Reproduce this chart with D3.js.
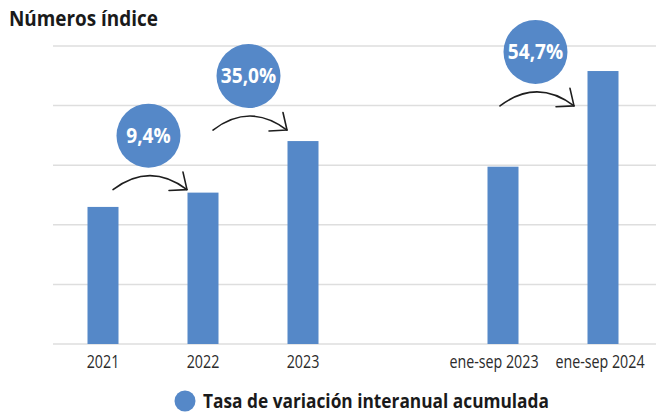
<!DOCTYPE html>
<html>
<head>
<meta charset="utf-8">
<script src="https://cdn.jsdelivr.net/npm/d3@7"></script>
<style>
  body { margin: 0; background: #fff; }
  svg { display: block; }
</style>
</head>
<body>
<script>
// categories, with an empty slot between the years and the jan-sep periods
const categories = ["2021", "2022", "2023", "gap", "ene-sep 2023", "ene-sep 2024"];
const indexValues = [46.0, 50.8, 68.1, null, 59.5, 91.6];
const yTicks = [0, 20, 40, 60, 80, 100];

// variation bubbles: from -> to, label
const varFrom = ["2021", "2022", "ene-sep 2023"];
const varTo = ["2022", "2023", "ene-sep 2024"];
const varLabels = ["9,4%", "35,0%", "54,7%"];
// where the arrows sit (in index units) and a small sideways nudge
const arrowLevel = [51.8, 71.8, 79.9];
const arrowNudge = [0, 0, -13];

const titleText = "Números índice";
const legendText = "Tasa de variación interanual acumulada";

const W = 656, H = 412;
const blue = "#5588c8";

const svg = d3.select("body").append("svg")
    .attr("width", W)
    .attr("height", H);

const x = d3.scaleBand()
    .domain(categories)
    .range([53, 653])
    .paddingInner(0.69)
    .paddingOuter(0.345);

const y = d3.scaleLinear()
    .domain([0, 100])
    .range([344, 46]);

// squeeze text a bit, the original face is narrower than what we have
function condense(sel, k) {
    sel.each(function() {
        const len = this.getComputedTextLength();
        d3.select(this)
          .attr("textLength", len * k)
          .attr("lengthAdjust", "spacingAndGlyphs");
    });
}

// gridlines
svg.append("g")
  .selectAll("line")
  .data(yTicks)
  .join("line")
    .attr("x1", 53)
    .attr("x2", W)
    .attr("y1", d => y(d))
    .attr("y2", d => y(d))
    .attr("stroke", "#dedede")
    .attr("stroke-width", 1.5);

// bars
const barData = categories
    .map((c, i) => ({c, v: indexValues[i]}))
    .filter(d => d.v !== null);

svg.append("g")
  .selectAll("rect")
  .data(barData)
  .join("rect")
    .attr("x", d => x(d.c))
    .attr("y", d => y(d.v))
    .attr("width", x.bandwidth())
    .attr("height", d => y(0) - y(d.v))
    .attr("fill", blue);

// x axis labels
const xAxis = svg.append("g")
    .attr("transform", `translate(0,${y(0)})`)
    .call(d3.axisBottom(x).tickSize(0).tickPadding(0)
        .tickFormat(d => d === "gap" ? "" : d));
xAxis.select(".domain").remove();
// narrow them with a horizontal scale; the long ones are nudged a little
const squeeze = 0.77;
const labelShift = d => d === "ene-sep 2023" ? -9 : d === "ene-sep 2024" ? -3 : 0;
xAxis.selectAll(".tick text")
    .attr("x", 0)
    .attr("y", 24)
    .attr("dy", 0)
    .attr("fill", "#2b2b2b")
    .attr("transform", d => `translate(${labelShift(d)},0) scale(${squeeze},1)`)
    .style("font-family", "'Open Sans', sans-serif")
    .style("font-size", "18.5px");

// title
svg.append("text")
    .attr("x", 9)
    .attr("y", 26)
    .style("font-family", "'Open Sans', sans-serif")
    .style("font-weight", "700")
    .style("font-size", "21px")
    .attr("fill", "#1a1a1a")
    .text(titleText)
    .call(condense, 0.9);

// arrows + bubbles
const cx = c => x(c) + x.bandwidth() / 2;
const ann = svg.append("g");
varLabels.forEach((lab, i) => {
    const x0 = cx(varFrom[i]) + 10 + arrowNudge[i];
    const x1 = cx(varTo[i]) - 16 + arrowNudge[i];
    const ay = y(arrowLevel[i]);
    const bulge = 14;
    const mx = (x0 + x1) / 2, my = ay - 2 * bulge;

    ann.append("path")
        .attr("d", `M${x0},${ay} Q${mx},${my} ${x1},${ay}`)
        .attr("fill", "none")
        .attr("stroke", "#1e1e1e")
        .attr("stroke-width", 1.6)
        .attr("stroke-linecap", "round");

    // open arrow head, following the curve at its end
    const back = Math.atan2(my - ay, mx - x1);
    const spread = 40 * Math.PI / 180, len = 18;
    const head = [back - spread, back + spread].map(a =>
        [x1 + len * Math.cos(a), ay + len * Math.sin(a)]);
    ann.append("path")
        .attr("d", `M${head[0][0]},${head[0][1]} L${x1},${ay} L${head[1][0]},${head[1][1]}`)
        .attr("fill", "none")
        .attr("stroke", "#1e1e1e")
        .attr("stroke-width", 1.6)
        .attr("stroke-linecap", "round")
        .attr("stroke-linejoin", "round");

    const bx = mx - 1.5, by = ay - bulge - 40;
    ann.append("circle")
        .attr("cx", bx)
        .attr("cy", by)
        .attr("r", 32)
        .attr("fill", blue);
    ann.append("text")
        .attr("x", bx)
        .attr("y", by + 7)
        .attr("text-anchor", "middle")
        .style("font-family", "'Open Sans', sans-serif")
        .style("font-weight", "700")
        .style("font-size", "20.5px")
        .attr("fill", "#fff")
        .text(lab)
        .call(condense, 0.93);
});

// legend
const legend = svg.append("g");
legend.append("circle")
    .attr("cx", 185)
    .attr("cy", 401)
    .attr("r", 10.5)
    .attr("fill", blue);
legend.append("text")
    .attr("x", 203)
    .attr("y", 407.5)
    .style("font-family", "'Open Sans', sans-serif")
    .style("font-weight", "700")
    .style("font-size", "19px")
    .attr("fill", "#1a1a1a")
    .text(legendText)
    .call(condense, 0.91);
</script>
</body>
</html>
